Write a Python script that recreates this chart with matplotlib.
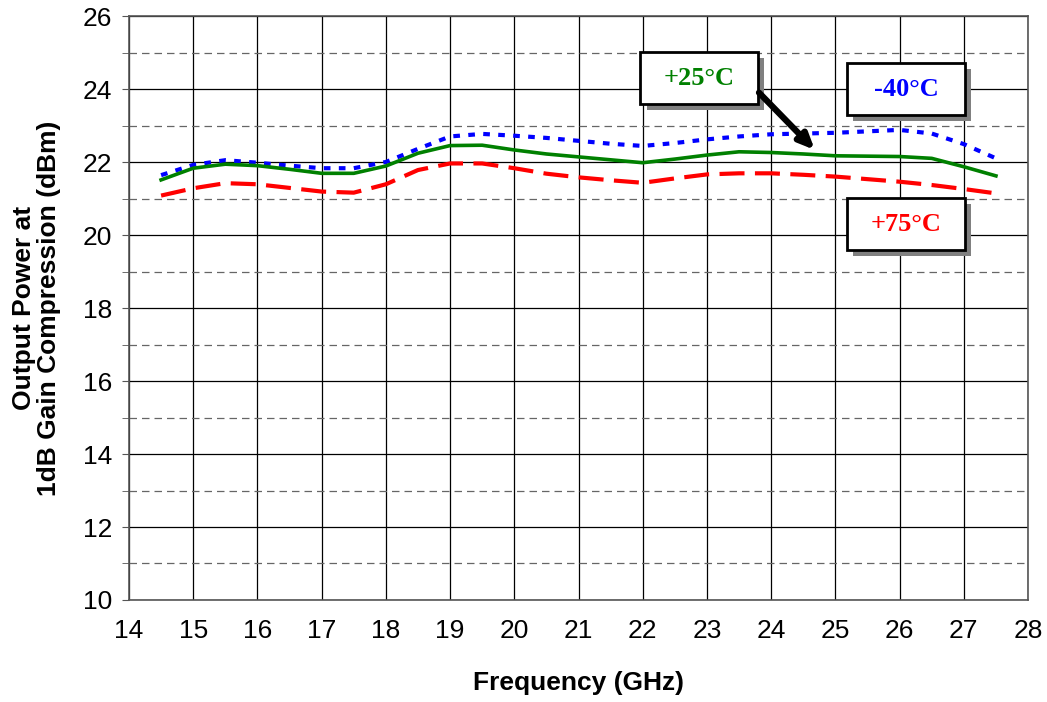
import numpy as np
import matplotlib.pyplot as plt
from matplotlib.patches import Rectangle

# Frequency points (GHz)
freq = [14.5, 15.0, 15.5, 16.0, 16.5, 17.0, 17.5, 18.0, 18.5, 19.0, 19.5, 20.0,
        20.5, 21.0, 21.5, 22.0, 22.5, 23.0, 23.5, 24.0, 24.5, 25.0, 25.5, 26.0,
        26.5, 27.0, 27.5]

# Output power at P1dB (dBm) per temperature
p_m40 = [21.64, 21.92, 22.05, 21.98, 21.90, 21.83, 21.83, 22.00, 22.36, 22.70, 22.77, 22.72,
         22.66, 22.58, 22.50, 22.44, 22.52, 22.62, 22.70, 22.76, 22.78, 22.80, 22.84, 22.88,
         22.78, 22.49, 22.10]
p_25 = [21.51, 21.83, 21.94, 21.90, 21.80, 21.69, 21.69, 21.89, 22.24, 22.45, 22.46, 22.33,
        22.22, 22.14, 22.06, 21.98, 22.08, 22.19, 22.28, 22.26, 22.22, 22.17, 22.16, 22.15,
        22.10, 21.87, 21.62]
p_75 = [21.08, 21.28, 21.42, 21.39, 21.29, 21.19, 21.16, 21.39, 21.78, 21.96, 21.96, 21.83,
        21.68, 21.58, 21.50, 21.43, 21.55, 21.66, 21.69, 21.69, 21.65, 21.60, 21.53, 21.46,
        21.37, 21.26, 21.14]

fig = plt.figure(figsize=(10.47, 7.02), dpi=100)
ax = fig.add_axes([0.1232, 0.1453, 0.8587, 0.8319])

ax.plot(freq, p_m40, color='#0000ff', lw=3, linestyle=(0, (1.6, 2.0)), zorder=4)
ax.plot(freq, p_25, color='#008000', lw=2.6, zorder=5)
ax.plot(freq, p_75, color='#ff0000', lw=3, linestyle=(0, (6, 2.5)), zorder=3)

ax.set_xlim(14, 28)
ax.set_ylim(10, 26)
ax.set_xticks(np.arange(14, 29, 1))
ax.set_yticks(np.arange(10, 27, 2))
ax.set_yticks(np.arange(11, 26, 2), minor=True)

ax.grid(True, which='major', color='black', lw=0.9)
ax.grid(True, which='minor', axis='y', color='#666666', lw=0.9, linestyle=(0, (6, 4)))
ax.set_axisbelow(True)
for s in ax.spines.values():
    s.set_color('#555555')
    s.set_linewidth(1.2)

ax.tick_params(axis='y', which='both', direction='out', length=5, color='#555555',
               labelsize=19, pad=7)
ax.tick_params(axis='x', which='both', length=0, labelsize=19, pad=14)
for lab in ax.get_xticklabels() + ax.get_yticklabels():
    lab.set_family('Liberation Sans')

ax.set_xlabel('Frequency (GHz)', fontsize=19, fontweight='bold', family='Liberation Sans')
ax.set_ylabel('Output Power at\n1dB Gain Compression (dBm)', fontsize=19, fontweight='bold',
              family='Liberation Sans', linespacing=1.05)
ax.xaxis.label.set_va('center')
ax.yaxis.label.set_va('center')
ax.xaxis.set_label_coords(0.5, -0.142)
ax.yaxis.set_label_coords(-0.1034, 0.5)


def label_box(x, y, text, color):
    # box in data coords with a grey drop shadow
    w, h = 1.83, 1.43
    sx, sy = 0.095, -0.165
    ax.add_patch(Rectangle((x - w / 2 + sx, y - h / 2 + sy), w, h, facecolor='#808080',
                           edgecolor='none', zorder=6))
    ax.add_patch(Rectangle((x - w / 2, y - h / 2), w, h, facecolor='white',
                           edgecolor='black', lw=2, zorder=7))
    ax.text(x, y, text, color=color, fontsize=19, fontweight='bold', family='Liberation Serif',
            ha='center', va='center', zorder=8)


label_box(22.88, 24.3, '+25°C', '#008000')
label_box(26.1, 23.99, '-40°C', '#0000ff')
label_box(26.1, 20.3, '+75°C', '#ff0000')

ax.annotate('', xy=(24.68, 22.33), xytext=(23.81, 23.9),
            arrowprops=dict(arrowstyle='-|>,head_length=0.9,head_width=0.4', color='black', lw=4.5,
                            shrinkA=0, shrinkB=0),
            zorder=9)

fig.savefig('out.png', dpi=100)
